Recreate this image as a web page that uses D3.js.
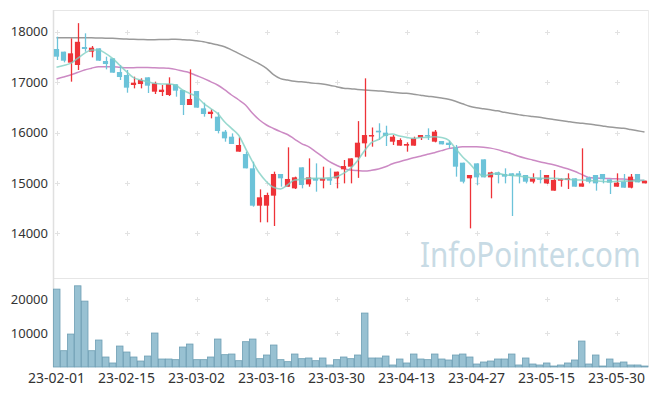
<!DOCTYPE html>
<html><head><meta charset="utf-8">
<script src="https://cdn.jsdelivr.net/npm/d3@7"></script>
<style>
html,body{margin:0;padding:0;background:#fff;}
svg{display:block;font-family:"Noto Sans",sans-serif;}
</style></head>
<body><svg id="c" width="657" height="396"></svg>
<script>
const dates = ["23-02-01","23-02-02","23-02-03","23-02-06","23-02-07","23-02-08","23-02-09","23-02-10","23-02-13","23-02-14",
"23-02-15","23-02-16","23-02-17","23-02-20","23-02-21","23-02-22","23-02-23","23-02-24","23-02-27","23-02-28",
"23-03-02","23-03-03","23-03-06","23-03-07","23-03-08","23-03-09","23-03-10","23-03-13","23-03-14","23-03-15",
"23-03-16","23-03-17","23-03-20","23-03-21","23-03-22","23-03-23","23-03-24","23-03-27","23-03-28","23-03-29",
"23-03-30","23-03-31","23-04-03","23-04-04","23-04-05","23-04-06","23-04-07","23-04-10","23-04-11","23-04-12",
"23-04-13","23-04-14","23-04-17","23-04-18","23-04-19","23-04-20","23-04-21","23-04-24","23-04-25","23-04-26",
"23-04-27","23-04-28","23-05-02","23-05-03","23-05-04","23-05-08","23-05-09","23-05-10","23-05-11","23-05-12",
"23-05-15","23-05-16","23-05-17","23-05-18","23-05-19","23-05-22","23-05-23","23-05-24","23-05-25","23-05-26",
"23-05-30","23-05-31","23-06-01","23-06-02","23-06-05"];

const open = [17657,17604,17386,17340,17697,17604,17670,17419,17472,17200,
17141,16943,16962,17095,16810,16804,16744,16956,16843,16546,
16823,16480,16367,16314,16017,15917,15620,15573,15289,14548,
14548,14747,15177,14925,14892,15309,14971,15090,15044,15090,
15090,15269,15322,15507,15785,15937,16036,15997,15818,15739,
15739,15739,15897,15950,15818,15831,15798,15706,15401,15091,
15388,15467,15110,15210,15177,15190,15190,15157,15024,15091,
14991,14846,15044,15058,15091,14925,15110,15157,15177,15071,
14925,15024,14905,15177,14991];
const high = [17902,17604,17868,18170,17968,17716,17670,17505,17472,17339,
17240,17108,17075,17095,17009,16943,17095,16956,16843,17253,
16823,16592,16460,16400,16050,15983,15904,15620,15421,14872,
14806,15223,15177,15706,15124,15309,15487,15388,15322,15289,
15223,15454,15487,16226,17075,16100,16183,16135,15950,15884,
15805,15917,15950,16083,16050,15831,15838,15752,15401,15157,
15388,15467,15223,15223,15289,15190,15236,15157,15190,15256,
15157,15256,15091,15190,15091,15686,15124,15157,15177,15071,
15190,15177,15177,15177,15044];
const low = [17439,17392,17009,17240,17604,17491,17420,17253,17187,17042,
16790,16876,16876,16784,16764,16724,16724,16711,16347,16546,
16493,16314,16281,15983,15818,15772,15620,15289,14528,14218,
14218,14145,14925,14925,14879,14892,14925,14826,14892,14958,
14892,14991,14991,15100,15520,15719,15851,15732,15752,15739,
15620,15739,15851,15851,15805,15765,15686,15124,14991,14098,
14958,15110,14694,14991,14991,14343,14991,14991,14991,14991,
14978,14846,14925,14879,14925,14925,14991,14846,14991,14780,
14925,14905,14892,15011,14991];
const close = [17505,17425,17571,17800,17657,17683,17425,17359,17187,17101,
16890,16989,17042,16929,16976,16850,16962,16830,16546,16665,
16493,16367,16413,16030,15884,15772,15752,15289,14548,14714,
14760,15177,15091,15078,15111,14958,15110,15044,15090,15044,
15223,15335,15487,15798,15950,15950,16003,15930,15917,15851,
15772,15884,15950,15930,16017,15765,15752,15322,15024,15157,
15110,15110,15210,15157,15124,15137,15144,15024,15091,15071,
15157,15058,15078,15091,14925,14991,15024,14991,15071,15005,
15005,14905,15124,15011,15044];
const volume = [22930,4800,9700,23900,19400,4800,7940,2940,1180,6170,
4410,2940,1760,3230,10000,2350,2350,2160,5880,6760,
2160,2160,2940,8230,3630,3820,1860,7450,8230,2450,
3530,6470,2160,1570,3820,2450,2650,1860,2650,590,
2160,2940,2450,3530,15880,2650,2650,3230,590,2350,
1180,3820,2350,2160,3820,2350,2060,3530,3820,2940,
880,1470,1760,2350,2350,3820,590,2650,880,590,
1180,290,590,1180,2060,7640,880,3530,290,2350,
1180,1470,590,590,290];
const ma5 = [17293,17330,17372,17470,17571,17637,17637,17571,17472,17339,
17207,17088,17042,17009,16976,16962,16962,16943,16843,16777,
16711,16579,16480,16380,16215,16083,15950,15686,15421,15190,
15024,14912,14879,14958,15058,15070,15090,15090,15090,15100,
15124,15190,15289,15440,15640,15800,15860,15950,15970,15930,
15904,15884,15900,15904,15917,15900,15850,15680,15520,15388,
15230,15137,15170,15190,15160,15150,15137,15120,15100,15095,
15090,15090,15080,15070,15060,15058,15050,15040,15030,15024,
15030,15035,15038,15045,15058];
const ma20 = [17062,17100,17141,17190,17240,17275,17306,17306,17306,17296,
17286,17286,17290,17290,17286,17280,17273,17253,17220,17187,
17130,17075,17010,16943,16850,16744,16650,16546,16380,16248,
16149,16080,16017,15960,15870,15780,15719,15620,15520,15421,
15350,15289,15256,15245,15236,15250,15275,15320,15380,15421,
15460,15500,15530,15570,15600,15640,15680,15700,15715,15719,
15715,15706,15690,15660,15620,15580,15530,15490,15455,15420,
15390,15360,15320,15280,15230,15170,15110,15095,15090,15085,
15080,15077,15065,15055,15044];
const ma60 = [17882,17882,17882,17882,17882,17880,17876,17872,17868,17860,
17855,17849,17846,17843,17842,17845,17848,17849,17843,17835,
17820,17802,17770,17740,17703,17640,17570,17500,17430,17360,
17273,17150,17070,17040,17015,17005,16990,16975,16962,16940,
16910,16880,16870,16855,16843,16835,16825,16815,16800,16785,
16777,16760,16740,16720,16705,16685,16660,16620,16570,16520,
16490,16470,16450,16430,16400,16375,16355,16335,16318,16301,
16280,16260,16240,16220,16200,16185,16169,16150,16130,16110,
16095,16083,16060,16035,16010];
const priceTicks = [14000,15000,16000,17000,18000];
const volTicks = [10000,20000];
const xTickEvery = 10;

const svg = d3.select("#c");
const L = 53, R = 648, T = 10, PB = 278, VT = 278, VB = 367;
const x = d3.scaleBand().domain(d3.range(dates.length)).range([L, R]).padding(0);
const cx = i => x(i) + x.bandwidth() / 2;
const y = d3.scaleLinear().domain([13113, 18431]).range([PB, T]);
const yv = d3.scaleLinear().domain([0, 26200]).range([VB, VT]);

const gridC = "#e2e2e2";
// frame
svg.append("line").attr("x1", L).attr("x2", R).attr("y1", T + 0.5).attr("y2", T + 0.5).attr("stroke", "#e6e6e6");
svg.append("line").attr("x1", L).attr("x2", R).attr("y1", VT + 0.5).attr("y2", VT + 0.5).attr("stroke", "#e6e6e6");
svg.append("line").attr("x1", L + 0.5).attr("x2", L + 0.5).attr("y1", T).attr("y2", VB).attr("stroke", "#e0e0e0").attr("stroke-width", 1.5);
svg.append("line").attr("x1", R + 0.5).attr("x2", R + 0.5).attr("y1", T).attr("y2", VB).attr("stroke", "#ececec");

const xt = d3.range(0, dates.length, xTickEvery);
// plus-mark grid
function plus(g, px, py) {
  g.append("path").attr("d", `M${px - 2.5},${py}H${px + 2.5}M${px},${py - 2.5}V${py + 2.5}`)
    .attr("stroke", gridC).attr("stroke-width", 1);
}
const gg = svg.append("g");
priceTicks.forEach(t => xt.forEach(i => plus(gg, Math.round(cx(i)) + 0.5, Math.round(y(t)) + 0.5)));
volTicks.forEach(t => xt.forEach(i => plus(gg, Math.round(cx(i)) + 0.5, Math.round(yv(t)) + 0.5)));

// watermark (narrowed horizontally)
svg.append("text").attr("transform", "translate(420,267) scale(0.87,1)").attr("font-size", 34)
  .attr("fill", "#c8dbe5").text("InfoPointer.com");

// y axis labels
const ya = svg.append("g").attr("transform", `translate(${L},0)`)
  .call(d3.axisLeft(y).tickValues(priceTicks).tickSize(0).tickPadding(5).tickFormat(d3.format("d")));
const yva = svg.append("g").attr("transform", `translate(${L},0)`)
  .call(d3.axisLeft(yv).tickValues(volTicks).tickSize(0).tickPadding(5).tickFormat(d3.format("d")));
[ya, yva].forEach(a => {
  a.select(".domain").remove();
  a.selectAll("text").attr("font-size", 13).attr("fill", "#333").attr("font-family", '"Noto Sans",sans-serif');
});
// x axis labels
const xa = svg.append("g").attr("transform", `translate(0,${VB})`)
  .call(d3.axisBottom(x).tickValues(xt).tickSize(0).tickPadding(6).tickFormat(i => dates[i]));
xa.select(".domain").remove();
xa.selectAll("text").attr("font-size", 14).attr("fill", "#333").attr("font-family", '"Noto Sans",sans-serif');

// MA lines
const line = arr => d3.line().x((d, i) => cx(i)).y(d => y(d)).curve(d3.curveMonotoneX)(arr);
svg.append("path").attr("d", line(ma60)).attr("fill", "none").attr("stroke", "#9a9a9a").attr("stroke-width", 1.5);
svg.append("path").attr("d", line(ma20)).attr("fill", "none").attr("stroke", "#cc8ac4").attr("stroke-width", 1.5);

// candles
const red = "#ee3338", blue = "#6cc3d9";
const cg = svg.append("g");
dates.forEach((d, i) => {
  const up = close[i] >= open[i];
  const col = up ? red : blue;
  const xc = Math.round(cx(i)) + 0.5;
  cg.append("line").attr("x1", xc).attr("x2", xc).attr("y1", y(high[i])).attr("y2", y(low[i]))
    .attr("stroke", col).attr("stroke-width", 1.3);
  const top = y(Math.max(open[i], close[i])), bot = y(Math.min(open[i], close[i]));
  cg.append("rect").attr("x", cx(i) - 2.6).attr("width", 5.2)
    .attr("y", top).attr("height", Math.max(1.5, bot - top)).attr("fill", col);
});
svg.append("path").attr("d", line(ma5)).attr("fill", "none").attr("stroke", "#80cfc3").attr("stroke-width", 1.6).attr("stroke-opacity", 0.8);

// volume
svg.append("g").selectAll("rect").data(volume).join("rect")
  .attr("x", (d, i) => x(i) + 0.5).attr("width", x.bandwidth() - 0.5)
  .attr("y", d => yv(d)).attr("height", d => VB - yv(d))
  .attr("fill", "#98c1d2").attr("stroke", "#6e9fb4").attr("stroke-width", 0.8);
</script></body></html>
